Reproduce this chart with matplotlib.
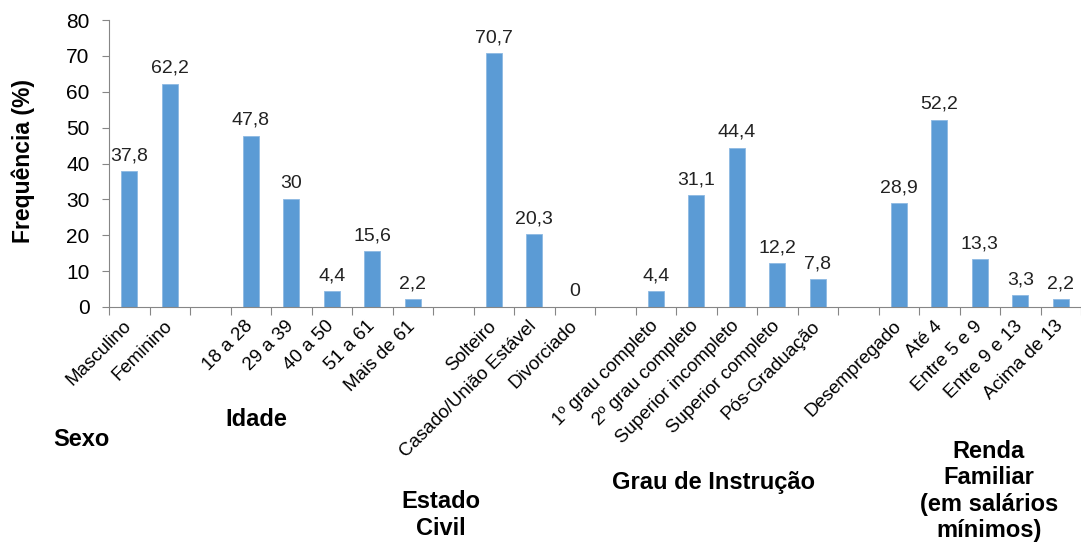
import matplotlib
matplotlib.use("Agg")
import matplotlib.pyplot as plt
import numpy as np

plt.rcParams['font.family'] = ['Liberation Sans', 'DejaVu Sans']

# Categories per group (empty string = spacer between groups)
categorias = [
    "Masculino", "Feminino", "",
    "18 a 28", "29 a 39", "40 a 50", "51 a 61", "Mais de 61", "",
    "Solteiro", "Casado/União Estável", "Divorciado", "",
    "1º grau completo", "2º grau completo", "Superior incompleto",
    "Superior completo", "Pós-Graduação", "",
    "Desempregado", "Até 4", "Entre 5 e 9", "Entre 9 e 13", "Acima de 13",
]
frequencias = [
    37.8, 62.2, None,
    47.8, 30, 4.4, 15.6, 2.2, None,
    70.7, 20.3, 0, None,
    4.4, 31.1, 44.4, 12.2, 7.8, None,
    28.9, 52.2, 13.3, 3.3, 2.2,
]
grupos = ["Sexo", "Idade", "Estado\nCivil", "Grau de Instrução",
          "Renda\nFamiliar\n(em salários\nmínimos)"]
# group label centres in figure pixels (x, y from top)
grupos_pos = [(81, 440), (256, 420), (441, 515), (713, 482), (989, 491)]

W, H = 1081, 542
fig = plt.figure(figsize=(W / 100, H / 100), dpi=100)
ax = fig.add_axes([109 / W, (H - 307) / H, (1081 - 109) / W, 287 / H])

cor = '#5B9BD5'
cinza = '#868686'
x = np.arange(len(categorias))
for xi, v in zip(x, frequencias):
    if v is None:
        continue
    ax.bar(xi, v, width=0.4, color=cor, edgecolor='#8DB9E3', linewidth=0.6)
    rotulo = f"{v:g}".replace('.', ',')
    ax.annotate(rotulo, (xi, v), xytext=(0, 5), textcoords='offset points',
                ha='center', va='bottom', fontsize=14, color='#222222')

ax.set_xlim(-0.5, len(categorias) - 0.5)
ax.set_ylim(0, 80)
ax.set_yticks(np.arange(0, 81, 10))
ax.tick_params(axis='y', labelsize=15, length=5, width=0.8, color=cinza, pad=9)

ax.set_xticks(x)
ax.set_xticklabels(categorias, rotation=45, ha='right', va='center',
                   rotation_mode='anchor', fontsize=13.5)
ax.tick_params(axis='x', length=0, pad=12)
ax.set_xticks(np.arange(-0.5, len(categorias), 1), minor=True)
ax.tick_params(axis='x', which='minor', length=6, width=0.8, color=cinza)

for s in ['top', 'right']:
    ax.spines[s].set_visible(False)
for s in ['left', 'bottom']:
    ax.spines[s].set_color(cinza)
    ax.spines[s].set_linewidth(0.8)

ax.set_ylabel("Frequência (%)", fontsize=16.5, fontweight='bold')
ax.yaxis.set_label_coords(-0.076, 0.51)

for nome, (px, py) in zip(grupos, grupos_pos):
    fig.text(px / W, 1 - py / H, nome, ha='center', va='center',
             fontsize=17, fontweight='bold', linespacing=1.17)

fig.savefig("out.png", dpi=100)
